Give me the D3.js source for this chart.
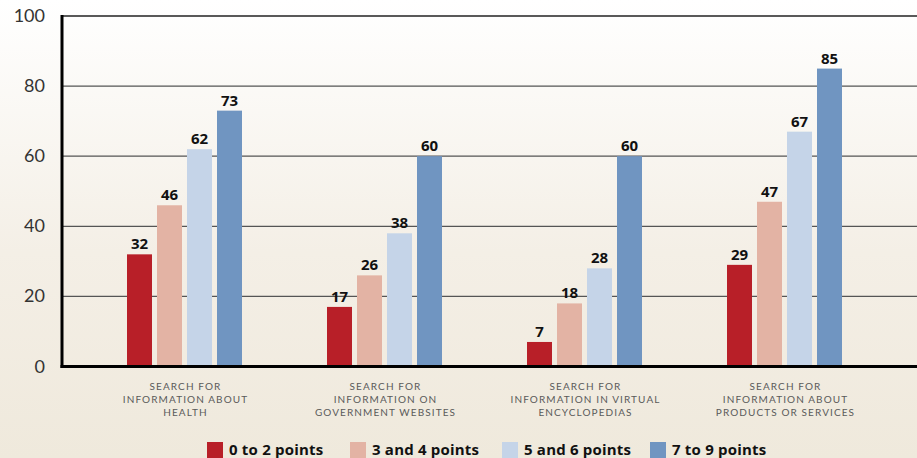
<!doctype html>
<html lang="en">
  <head>
    <meta charset="utf-8">
    <title>Online search by points</title>
    <script src="https://d3js.org/d3.v7.min.js"></script>
    <style>
      body { margin: 0; padding: 0; overflow: hidden; }
      svg { display: block; }
    </style>
  </head>
  <body>
    <div class="visual"></div>
  </body>
  <script>
    const w = 917;
    const h = 458;

    // data
    const categories = [
      ['SEARCH FOR', 'INFORMATION ABOUT', 'HEALTH'],
      ['SEARCH FOR', 'INFORMATION ON', 'GOVERNMENT WEBSITES'],
      ['SEARCH FOR', 'INFORMATION IN VIRTUAL', 'ENCYCLOPEDIAS'],
      ['SEARCH FOR', 'INFORMATION ABOUT', 'PRODUCTS OR SERVICES']
    ];
    const seriesNames = ['0 to 2 points', '3 and 4 points', '5 and 6 points', '7 to 9 points'];
    const seriesColors = ['#b81f28', '#e3b3a4', '#c5d4e8', '#7095c1'];
    const values0to2 = [32, 17, 7, 29];
    const values3and4 = [46, 26, 18, 47];
    const values5and6 = [62, 38, 28, 67];
    const values7to9 = [73, 60, 60, 85];
    const yTicks = [0, 20, 40, 60, 80, 100];

    const seriesValues = [values0to2, values3and4, values5and6, values7to9];

    const svg = d3.select('.visual')
      .append('svg')
      .attr('width', w)
      .attr('height', h);

    // background gradient
    const defs = svg.append('defs');
    const grad = defs.append('linearGradient')
      .attr('id', 'bg')
      .attr('x1', 0).attr('y1', 0).attr('x2', 0).attr('y2', 1);
    grad.append('stop').attr('offset', '0%').attr('stop-color', '#ffffff');
    grad.append('stop').attr('offset', '55%').attr('stop-color', '#f4efe6');
    grad.append('stop').attr('offset', '100%').attr('stop-color', '#efe9dc');
    svg.append('rect')
      .attr('width', w).attr('height', h)
      .attr('fill', 'url(#bg)');

    const axisX = 62;
    const y = d3.scaleLinear().domain([0, 100]).range([366.5, 16]);
    const x0 = d3.scaleBand().domain(d3.range(categories.length)).range([85, 885]);
    // bars 25 wide, 30 apart, inside each 200px group
    const x1 = d3.scaleBand().domain(d3.range(seriesNames.length)).range([42, 157]).paddingInner(1 / 6);

    // gridlines
    svg.append('g')
      .selectAll('line')
      .data(yTicks.filter(d => d > 0))
      .enter().append('line')
      .attr('x1', axisX).attr('x2', w)
      .attr('y1', d => y(d)).attr('y2', d => y(d))
      .attr('stroke', d => d === 100 ? '#222' : '#555')
      .attr('stroke-width', d => d === 100 ? 1.6 : 1.2);

    // y tick labels
    svg.append('g')
      .selectAll('text')
      .data(yTicks)
      .enter().append('text')
      .attr('x', 45)
      .attr('y', d => y(d) + 6)
      .attr('text-anchor', 'end')
      .attr('font-family', 'Lato, "Open Sans", sans-serif')
      .attr('font-weight', 400)
      .attr('font-size', '18px')
      .attr('fill', '#333')
      .text(d => d);

    // bars
    const groups = svg.append('g')
      .selectAll('g')
      .data(categories)
      .enter().append('g')
      .attr('transform', (d, i) => 'translate(' + x0(i) + ',0)');

    groups.each(function(c, ci) {
      const g = d3.select(this);
      const data = seriesValues.map((vals, si) => ({ si: si, v: vals[ci] }));
      g.selectAll('rect')
        .data(data)
        .enter().append('rect')
        .attr('x', d => x1(d.si))
        .attr('width', x1.bandwidth())
        .attr('y', d => y(d.v))
        .attr('height', d => y(0) - y(d.v))
        .attr('fill', d => seriesColors[d.si]);
      g.selectAll('text.val')
        .data(data)
        .enter().append('text')
        .attr('class', 'val')
        .attr('x', d => x1(d.si) + x1.bandwidth() / 2)
        .attr('y', d => y(d.v) - 5)
        .attr('text-anchor', 'middle')
        .attr('font-family', '"Open Sans", sans-serif')
        .attr('font-weight', 700)
        .attr('font-size', '15px')
        .attr('fill', '#111')
        .text(d => d.v);
      // category label
      g.append('text')
        .attr('text-anchor', 'middle')
        .attr('font-family', 'Lato, "Open Sans", sans-serif')
        .attr('font-size', '10px')
        .attr('letter-spacing', '1.1px')
        .attr('fill', '#5a5a5a')
        .selectAll('tspan')
        .data(c)
        .enter().append('tspan')
        .attr('x', x0.bandwidth() / 2 + 0.5)
        .attr('y', (d, i) => 390 + i * 13)
        .text(d => d);
    });

    // axes lines
    svg.append('line')
      .attr('x1', axisX).attr('x2', axisX)
      .attr('y1', 15).attr('y2', 368)
      .attr('stroke', '#000').attr('stroke-width', 3);
    svg.append('line')
      .attr('x1', axisX - 1.5).attr('x2', w)
      .attr('y1', y(0)).attr('y2', y(0))
      .attr('stroke', '#000').attr('stroke-width', 3);

    // legend
    const legendX = [207, 350, 502, 650];
    const legend = svg.append('g')
      .selectAll('g')
      .data(seriesNames)
      .enter().append('g')
      .attr('transform', (d, i) => 'translate(' + legendX[i] + ',442)');
    legend.append('rect')
      .attr('width', 16).attr('height', 16)
      .attr('fill', (d, i) => seriesColors[i]);
    legend.append('text')
      .attr('x', 22)
      .attr('y', 13)
      .attr('font-family', '"Open Sans", sans-serif')
      .attr('font-weight', 700)
      .attr('font-size', '15px')
      .attr('letter-spacing', '0.2px')
      .attr('fill', '#111')
      .text(d => d);
  </script>
</html>
